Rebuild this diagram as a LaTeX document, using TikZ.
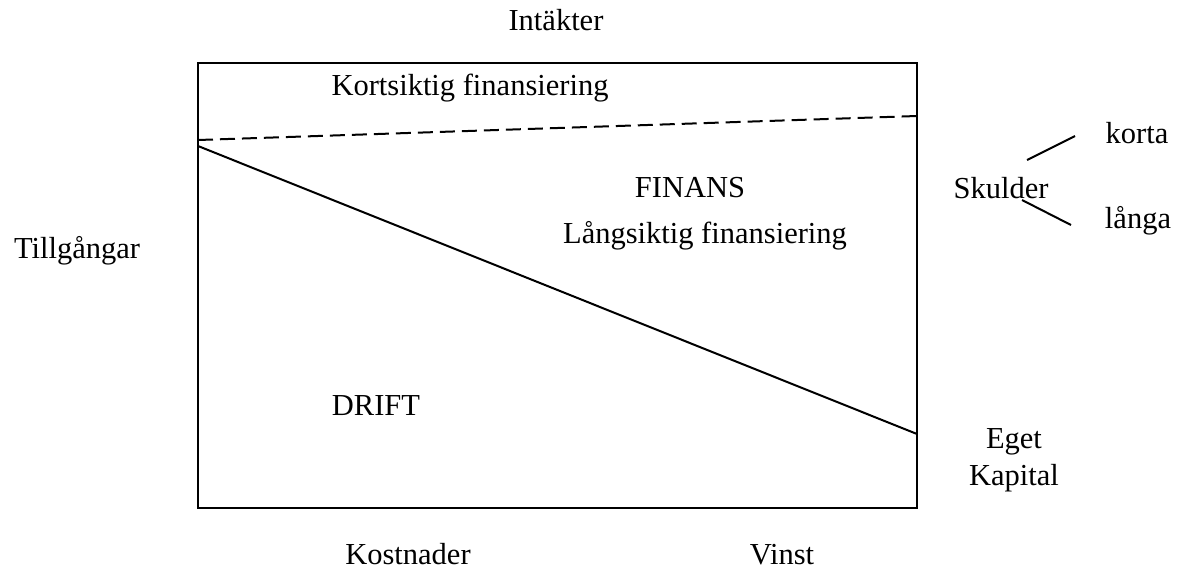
\documentclass[tikz,border=0pt]{standalone}
\usepackage{fontspec}
\setmainfont{Liberation Serif}
\begin{document}
\begin{tikzpicture}[x=1pt,y=-1pt, every node/.style={font=\fontsize{30.5}{37}\selectfont}]
	\tikzstyle{txt} = [inner sep=0pt,anchor=base]
	\tikzstyle{edge} = [line width=2pt]
	\useasboundingbox (0,0) rectangle (1177,571);
	\draw[edge](198,63) rectangle (917,508);
	\coordinate(dl)at(198,140);
	\coordinate(dr)at(917,116);
	\coordinate(sl)at(198,146);
	\coordinate(sr)at(917,434);
	\draw[edge,dash pattern=on 15pt off 7pt] (dl) -- (dr);
	\draw[edge] (sl) -- (sr);
	\node[txt](intakter)at(556,30){Intäkter};
	\node[txt](kort)at(470,95){Kortsiktig finansiering};
	\node[txt](finans)at(690,197){FINANS};
	\node[txt](lang)at(705,243){Långsiktig finansiering};
	\node[txt](tillg)at(77,258){Tillgångar};
	\node[txt](drift)at(376,415){DRIFT};
	\node[txt](skulder)at(1001,198){Skulder};
	\node[txt](korta)at(1137,143){korta};
	\node[txt](langa)at(1138,228){långa};
	\node[txt](eget)at(1014,448){Eget};
	\node[txt](kapital)at(1014,485){Kapital};
	\node[txt](kostnader)at(408,564){Kostnader};
	\node[txt](vinst)at(782,564){Vinst};
	\coordinate(ku)at(1027,160);
	\coordinate(kk)at(1075,136);
	\coordinate(lu)at(1022,200);
	\coordinate(ll)at(1071,225);
	\draw[edge] (ku) -- (kk);
	\draw[edge] (lu) -- (ll);
\end{tikzpicture}
\end{document}
